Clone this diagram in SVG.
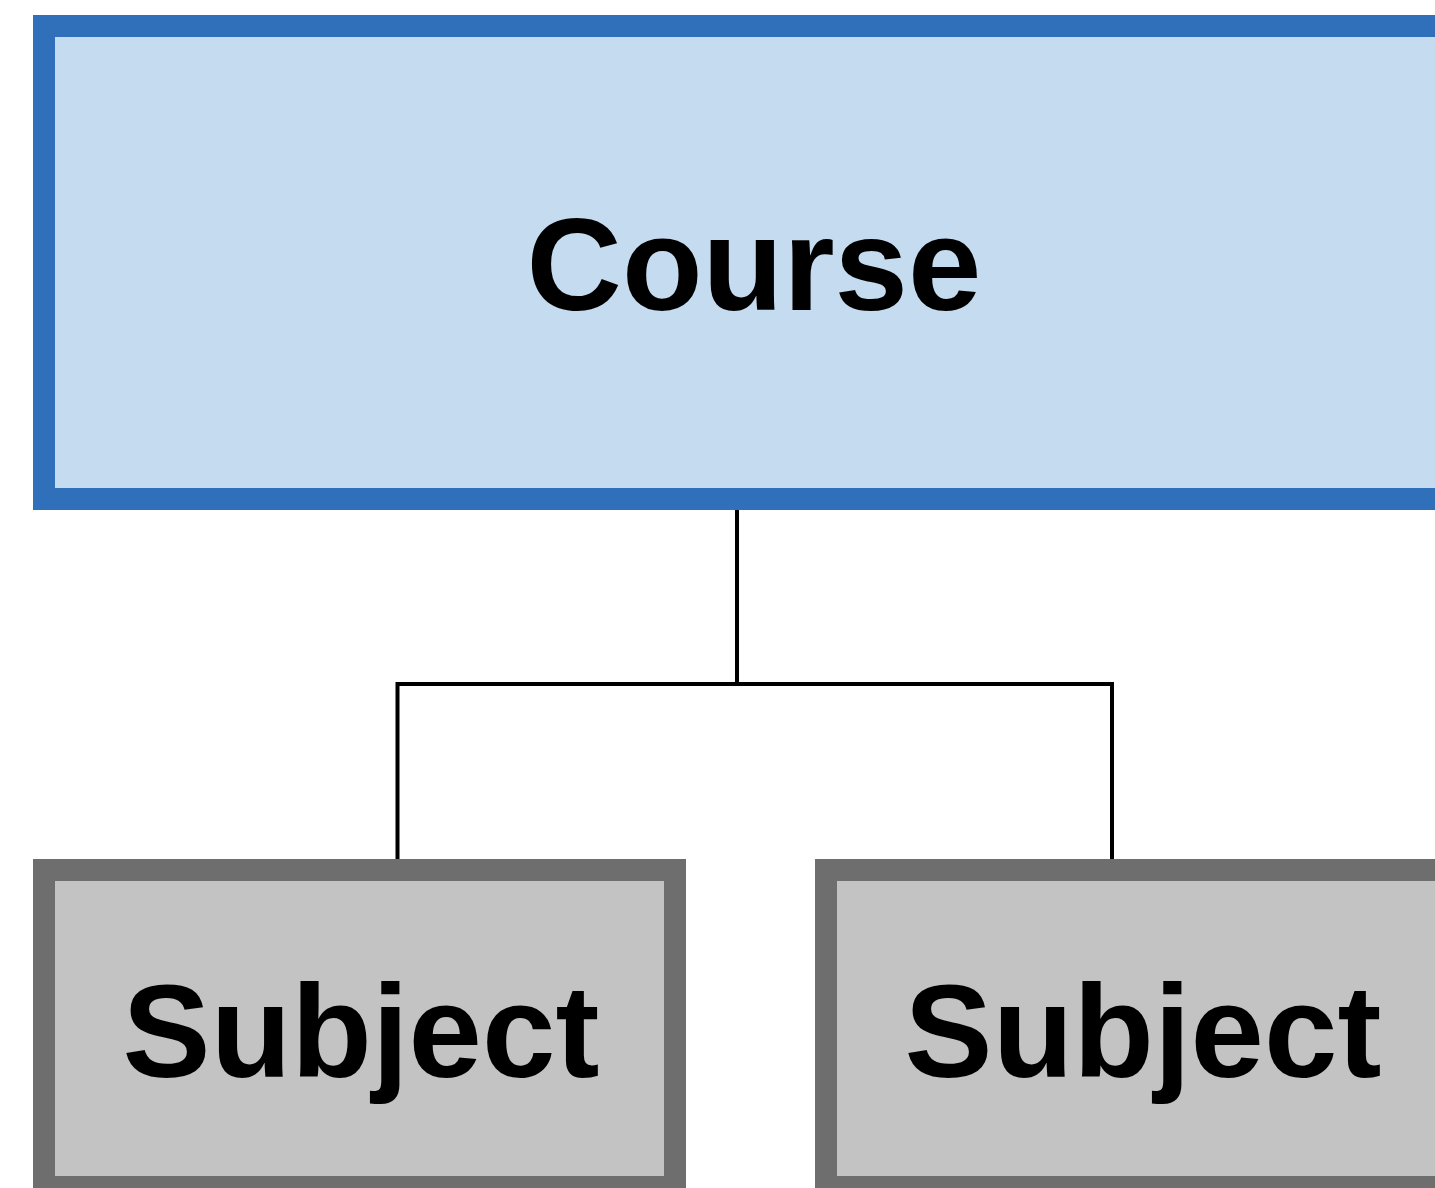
<svg xmlns="http://www.w3.org/2000/svg" width="1435" height="1188" viewBox="0 0 1435 1188">
<style>
.course{fill:#C5DBEF;stroke:#3070BB;stroke-width:22}
.subject{fill:#C3C3C3;stroke:#6E6E6E;stroke-width:22}
.lbl{font-family:"Liberation Sans",Arial,sans-serif;font-weight:bold;font-size:132px;fill:#000;text-anchor:middle}
.conn{fill:none;stroke:#000;stroke-width:4}
</style>
<rect width="1435" height="1188" fill="#fff"/>
<g id="connectors">
<path class="conn" d="M737 510 V684"/>
<path class="conn" d="M397.5 860 V684 H1112 V860"/>
</g>
<g id="course">
<rect class="course" x="44" y="26" width="1420" height="473"/>
<text class="lbl" x="754" y="310">Course</text>
</g>
<g id="subject1">
<rect class="subject" x="44" y="870" width="631" height="317"/>
<text class="lbl" x="361" y="1077">Subject</text>
</g>
<g id="subject2">
<rect class="subject" x="826" y="870" width="631" height="317"/>
<text class="lbl" x="1143" y="1077">Subject</text>
</g>
</svg>
